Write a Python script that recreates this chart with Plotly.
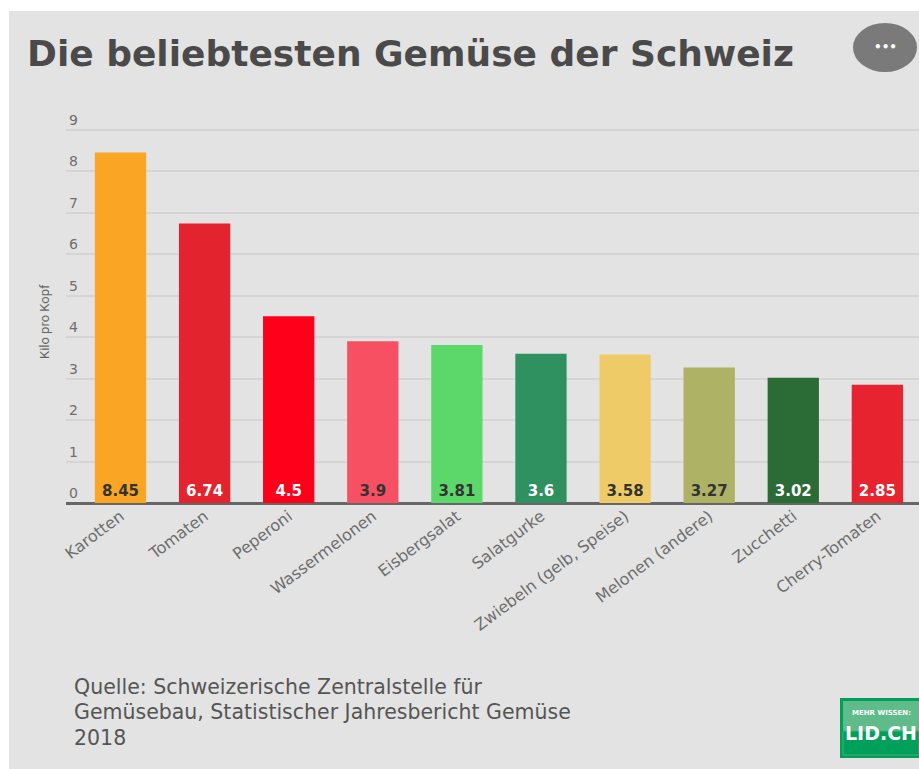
import plotly.graph_objects as go

categories = ["Karotten", "Tomaten", "Peperoni", "Wassermelonen", "Eisbergsalat", "Salatgurke",
              "Zwiebeln (gelb, Speise)", "Melonen (andere)", "Zucchetti", "Cherry-Tomaten"]
values = [8.45, 6.74, 4.5, 3.9, 3.81, 3.6, 3.58, 3.27, 3.02, 2.85]
colors = ["#FBA525", "#E3242F", "#FF001B", "#F65062", "#5CD86A", "#2E915F",
          "#EFCB68", "#ADB264", "#2B6B35", "#E6232F"]
label_colors = ["#333333", "#ffffff", "#ffffff", "#333333", "#333333", "#ffffff",
                "#333333", "#333333", "#ffffff", "#ffffff"]
y_ticks = [0, 1, 2, 3, 4, 5, 6, 7, 8, 9]
title_text = "Die beliebtesten Gemüse der Schweiz"
y_title = "Kilo pro Kopf"
source_lines = ["Quelle: Schweizerische Zentralstelle für",
                "Gemüsebau, Statistischer Jahresbericht Gemüse",
                "2018"]

W, H = 919, 769
L, R, T, B = 66, 0, 109, 266
pw, ph = W - L - R, H - T - B
def px(x): return (x - L) / pw
def py(y): return 1 - (y - T) / ph

fig = go.Figure(go.Bar(
    x=list(range(len(categories))), y=values, width=0.61,
    marker=dict(color=colors, line_width=0),
    text=[str(v) for v in values],
    textposition="inside", insidetextanchor="start", textangle=0,
    constraintext="none",
    textfont=dict(family="DejaVu Sans", size=15, color=label_colors, weight="bold"),
    hoverinfo="skip",
))

def rect(x0, y0, x1, y1, **kw):
    return dict(type="rect", xref="paper", yref="paper", x0=px(x0), x1=px(x1),
                y0=py(y0), y1=py(y1), **kw)

shapes = [
    rect(9, 11, 919, 769, fillcolor="#E3E3E3", layer="below", line_width=0),
    dict(type="circle", xref="paper", yref="paper", x0=px(853), x1=px(917), y0=py(23), y1=py(72),
         fillcolor="#7A7A7A", line_width=0),
    rect(840, 698, 919, 758, fillcolor="#00A05A", line_width=0),
    rect(843, 701, 919, 731, fillcolor="#5FBB8A", line_width=0),
    rect(843, 731, 919, 755, fillcolor="rgba(0,0,0,0)", line=dict(color="#3FB07A", width=1)),
]

def note(text, x, y, size, color, family="DejaVu Sans", xanchor="center", **kw):
    return dict(text=text, x=px(x), y=py(y), xref="paper", yref="paper", xanchor=xanchor,
                yanchor="middle", showarrow=False, font=dict(family=family, size=size, color=color), **kw)

annotations = [
    note("<b>" + title_text + "</b>", 25, 53, 36, "#4A4A4A", xanchor="left"),
    note("<b>•••</b>", 885, 47, 12, "#ffffff"),
    note("<b>MEHR WISSEN:</b>", 881, 713, 7, "#ffffff"),
    note("<b>LID.CH</b>", 881, 733, 19, "#ffffff"),
    note(y_title, 44, 322, 13, "#666666", family="Roboto", textangle=-90),
]
for line, yy in zip(source_lines, [687, 712, 738]):
    annotations.append(note(line, 72, yy, 20.5, "#555555", xanchor="left"))

fig.update_layout(
    width=W, height=H, autosize=False, margin=dict(l=L, r=R, t=T, b=B),
    paper_bgcolor="#ffffff", plot_bgcolor="rgba(0,0,0,0)", showlegend=False,
    shapes=shapes, annotations=annotations,
    xaxis=dict(tickmode="array", tickvals=list(range(len(categories))), ticktext=categories,
               range=[-0.648, 9.495], tickangle=-37, showgrid=False, ticks="", zeroline=False,
               showline=False, tickfont=dict(family="DejaVu Sans", size=16, color="#6E6E6E")),
    yaxis=dict(range=[0, 9.5], tickvals=y_ticks, ticklabelposition="inside top",
               gridcolor="#D5D5D5", gridwidth=2, zeroline=True, zerolinecolor="#666666", zerolinewidth=3,
               tickfont=dict(family="DejaVu Sans", size=14, color="#6E6E6E")),
)
fig.write_html("out.html", config=dict(displayModeBar=False),
               post_script="document.body.style.margin='0';")
